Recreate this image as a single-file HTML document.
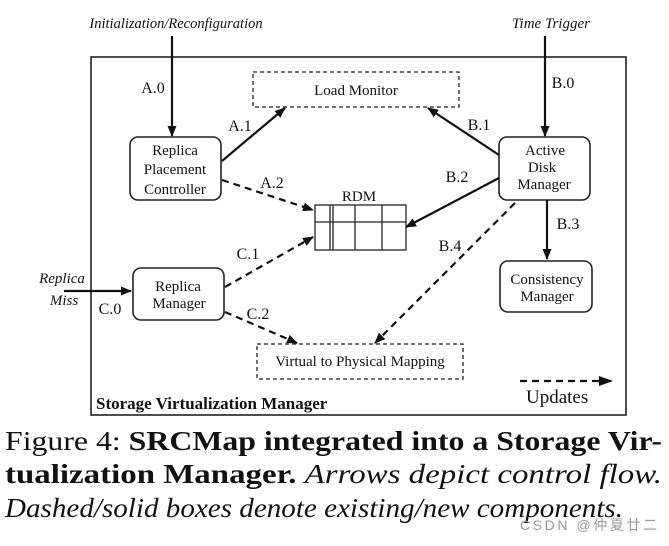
<!DOCTYPE html>
<html><head><meta charset="utf-8"><style>
html,body{margin:0;padding:0;background:#fff;}
svg{display:block;}
text{font-family:"Liberation Serif",serif;fill:#111;}
</style></head><body>
<svg width="669" height="546" viewBox="0 0 669 546" xmlns="http://www.w3.org/2000/svg">
<defs>
<marker id="ah" markerWidth="11" markerHeight="9" refX="10" refY="4.5" orient="auto" markerUnits="userSpaceOnUse">
<path d="M0,0 L11,4.5 L0,9 z" fill="#111"/></marker>
<marker id="ah2" markerWidth="14" markerHeight="10" refX="13" refY="5" orient="auto" markerUnits="userSpaceOnUse">
<path d="M0,0 L14,5 L0,10 z" fill="#111"/></marker>
</defs>
<g stroke="#222" fill="none" stroke-width="1.6">
<rect x="91" y="57" width="535" height="358"/>
<rect x="253" y="72" width="206" height="35" stroke-dasharray="4,3" stroke-width="1.3"/>
<rect x="257" y="344" width="206" height="35" stroke-dasharray="4,3" stroke-width="1.3"/>
<rect x="130" y="137" width="91" height="63" rx="8"/>
<rect x="499" y="137" width="91" height="63" rx="8"/>
<rect x="500" y="261" width="92" height="51" rx="8"/>
<rect x="133" y="268" width="91" height="52" rx="8"/>
<rect x="315" y="205" width="91" height="45" stroke-width="1.3"/>
<path d="M315,222 H406 M330,205 V250 M333,205 V250 M355,205 V250 M382,205 V250" stroke-width="1.3"/>
</g>
<g stroke="#111" stroke-width="2.2" fill="none">
<line x1="172" y1="36" x2="172" y2="136" marker-end="url(#ah)"/>
<line x1="545" y1="36" x2="545" y2="136" marker-end="url(#ah)"/>
<line x1="222" y1="161" x2="285" y2="108" marker-end="url(#ah)"/>
<line x1="499" y1="155" x2="428" y2="108" marker-end="url(#ah)"/>
<line x1="499" y1="178" x2="406" y2="227" marker-end="url(#ah)"/>
<line x1="547" y1="200" x2="547" y2="259" marker-end="url(#ah)"/>
<line x1="64" y1="291" x2="131" y2="291" marker-end="url(#ah)"/>
<g stroke-dasharray="7,5">
<line x1="222" y1="180" x2="313" y2="210" marker-end="url(#ah)"/>
<line x1="225" y1="287" x2="313" y2="237" marker-end="url(#ah)"/>
<line x1="225" y1="312" x2="297" y2="343" marker-end="url(#ah)"/>
<line x1="515" y1="203" x2="375" y2="343" marker-end="url(#ah)"/>
<line x1="520" y1="381" x2="612" y2="381" marker-end="url(#ah2)"/>
</g>
</g>
<g font-size="15" text-anchor="middle">
<text x="176" y="28" font-style="italic" font-size="14.5">Initialization/Reconfiguration</text>
<text x="551" y="28" font-style="italic">Time Trigger</text>
<text x="356" y="95">Load Monitor</text>
<text x="360" y="366">Virtual to Physical Mapping</text>
<text x="175" y="155">Replica</text>
<text x="175" y="174">Placement</text>
<text x="175" y="194">Controller</text>
<text x="545" y="155">Active</text>
<text x="542" y="172">Disk</text>
<text x="544" y="189">Manager</text>
<text x="547" y="284">Consistency</text>
<text x="547" y="301">Manager</text>
<text x="178" y="291">Replica</text>
<text x="179" y="308">Manager</text>
<text x="359" y="201">RDM</text>
<text x="62" y="283" font-style="italic">Replica</text>
<text x="64" y="305" font-style="italic">Miss</text>
<text x="153" y="93" font-size="16">A.0</text>
<text x="240" y="131" font-size="16">A.1</text>
<text x="272" y="188" font-size="16">A.2</text>
<text x="563" y="88" font-size="16">B.0</text>
<text x="479" y="130" font-size="16">B.1</text>
<text x="457" y="182" font-size="16">B.2</text>
<text x="568" y="229" font-size="16">B.3</text>
<text x="450" y="251" font-size="16">B.4</text>
<text x="248" y="259" font-size="16">C.1</text>
<text x="110" y="314" font-size="16">C.0</text>
<text x="258" y="319" font-size="16">C.2</text>
</g>
<text x="96" y="409" font-size="17" font-weight="bold">Storage Virtualization Manager</text>
<text x="526" y="403" font-size="19">Updates</text>
<text x="5" y="450" font-size="27" textLength="657" lengthAdjust="spacingAndGlyphs">Figure 4:  <tspan font-weight="bold">SRCMap integrated into a Storage Vir-</tspan></text>
<text x="5" y="483" font-size="27" textLength="657" lengthAdjust="spacingAndGlyphs"><tspan font-weight="bold">tualization Manager.</tspan>  <tspan font-style="italic">Arrows depict control flow.</tspan></text>
<text x="5" y="517" font-size="27" font-style="italic" textLength="618" lengthAdjust="spacingAndGlyphs">Dashed/solid boxes denote existing/new components.</text>
<text x="520" y="530" font-size="14" style="font-family:'Liberation Sans','Noto Sans CJK SC',sans-serif;fill:#999" textLength="137">CSDN @仲夏廿二</text>
</svg>
</body></html>
